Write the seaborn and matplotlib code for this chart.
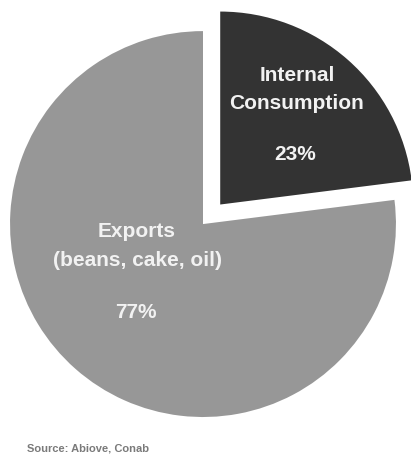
import matplotlib
matplotlib.use("Agg")
import matplotlib.pyplot as plt
import seaborn as sns

sns.set_theme(style="white")
plt.rcParams["font.family"] = ["Liberation Sans", "DejaVu Sans"]

# Destination of soybean production (share, %)
categories = ["Internal\nConsumption", "Exports\n(beans, cake, oil)"]
shares = [23, 77]
colors = ["#333333", "#979797"]
explode = [0.135, 0.0]
source_note = "Source: Abiove, Conab"

fig = plt.figure(figsize=(4.11, 4.57), dpi=100)
ax = fig.add_axes([0, 0, 1, 1])

wedges, _ = ax.pie(
    shares,
    colors=colors,
    explode=explode,
    startangle=90,
    counterclock=False,
    radius=1.0,
    wedgeprops=dict(linewidth=0),
)

ax.set_xlim(-1.052, 1.078)
ax.set_ylim(-1.207, 1.161)
ax.set_aspect("equal")
ax.axis("off")

txt = dict(color="#f2f2f2", fontsize=15, fontweight="bold", ha="center", va="center")

# Internal consumption labels
name_lines = categories[0].split("\n")
ax.text(0.487, 0.772, name_lines[0], **txt)
ax.text(0.487, 0.627, name_lines[1], **txt)
ax.text(0.478, 0.358, f"{shares[0]}%", **txt)

# Exports labels
name_lines = categories[1].split("\n")
ax.text(-0.342, -0.041, name_lines[0], **txt)
ax.text(-0.342, -0.187, name_lines[1], **txt)
ax.text(-0.347, -0.456, f"{shares[1]}%", **txt)

ax.text(-0.912, -1.161, source_note, color="#7a7a7a", fontsize=8,
        fontweight="bold", ha="left", va="center")

fig.savefig("out.png", dpi=100, facecolor="white")
